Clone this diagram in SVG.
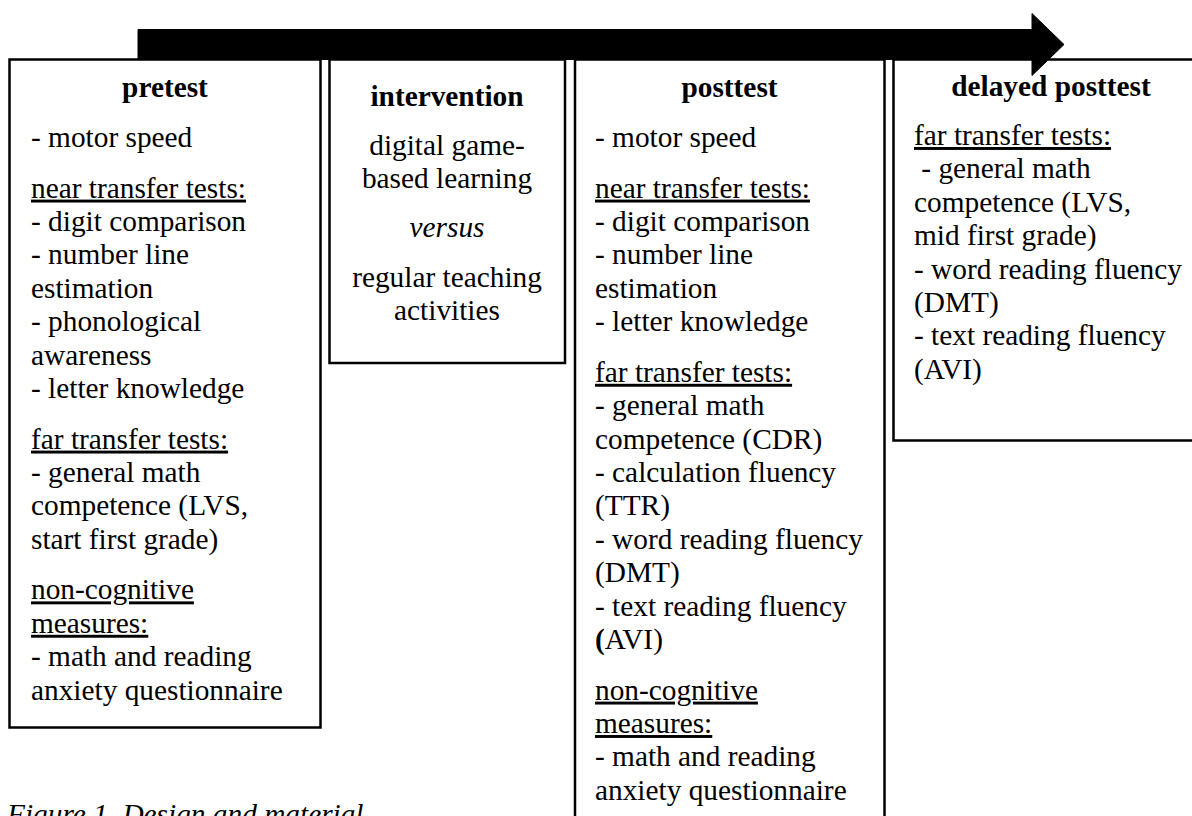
<svg xmlns="http://www.w3.org/2000/svg" width="1192" height="816" viewBox="0 0 1192 816">
<style>
.box{fill:#fff;stroke:#000;stroke-width:2.5}
text{font-family:"Liberation Serif","Times New Roman",serif;font-size:29.33px;fill:#000}
.t{font-weight:bold;text-anchor:middle}
.c{text-anchor:middle}
.u{text-decoration:underline}
.i{font-style:italic}
</style>
<rect x="0" y="0" width="1192" height="816" fill="#fff"/>
<g id="pretest">
<rect class="box" x="9.5" y="59.5" width="311" height="668"/>
<text class="t" x="165" y="97">pretest</text>
<text x="31" y="147">- motor speed</text>
<text class="u" x="31" y="197.6">near transfer tests:</text>
<text x="31" y="231">- digit comparison</text>
<text x="31" y="264.4">- number line</text>
<text x="31" y="297.8">estimation</text>
<text x="31" y="331.2">- phonological</text>
<text x="31" y="364.6">awareness</text>
<text x="31" y="398">- letter knowledge</text>
<text class="u" x="31" y="448.6">far transfer tests:</text>
<text x="31" y="482">- general math</text>
<text x="31" y="515.4">competence (LVS,</text>
<text x="31" y="548.8">start first grade)</text>
<text class="u" x="31" y="599.4">non-cognitive</text>
<text class="u" x="31" y="632.8">measures:</text>
<text x="31" y="666.2">- math and reading</text>
<text x="31" y="699.6">anxiety questionnaire</text>
</g>
<g id="intervention">
<rect class="box" x="329.5" y="59.5" width="235.5" height="303.5"/>
<text class="t" x="447" y="106">intervention</text>
<text class="c" x="447" y="154.5">digital game-</text>
<text class="c" x="447" y="188">based learning</text>
<text class="c i" x="447" y="237">versus</text>
<text class="c" x="447" y="286.5">regular teaching</text>
<text class="c" x="447" y="320">activities</text>
</g>
<g id="posttest">
<rect class="box" x="575" y="59.5" width="309.5" height="800"/>
<text class="t" x="729.5" y="97">posttest</text>
<text x="595" y="147">- motor speed</text>
<text class="u" x="595" y="197.6">near transfer tests:</text>
<text x="595" y="231">- digit comparison</text>
<text x="595" y="264.4">- number line</text>
<text x="595" y="297.8">estimation</text>
<text x="595" y="331.2">- letter knowledge</text>
<text class="u" x="595" y="381.8">far transfer tests:</text>
<text x="595" y="415.2">- general math</text>
<text x="595" y="448.6">competence (CDR)</text>
<text x="595" y="482">- calculation fluency</text>
<text x="595" y="515.4">(TTR)</text>
<text x="595" y="548.8">- word reading fluency</text>
<text x="595" y="582.2">(DMT)</text>
<text x="595" y="615.6">- text reading fluency</text>
<text x="595" y="649"><tspan font-weight="bold">(</tspan>AVI)</text>
<text class="u" x="595" y="699.6">non-cognitive</text>
<text class="u" x="595" y="733">measures:</text>
<text x="595" y="766.4">- math and reading</text>
<text x="595" y="799.8">anxiety questionnaire</text>
</g>
<g id="delayed-posttest">
<rect class="box" x="893.5" y="59.5" width="320" height="381"/>
<text class="t" x="1051" y="96">delayed posttest</text>
<text class="u" x="914" y="145">far transfer tests:</text>
<text x="921.3" y="178.4">- general math</text>
<text x="914" y="211.8">competence (LVS,</text>
<text x="914" y="245.2">mid first grade)</text>
<text x="914" y="278.6">- word reading fluency</text>
<text x="914" y="312">(DMT)</text>
<text x="914" y="345.4">- text reading fluency</text>
<text x="914" y="378.8">(AVI)</text>
</g>
<g id="connectors">
<polygon points="138,29.5 1032,29.5 1032,13.5 1064,44.5 1032,75.5 1032,59.5 138,59.5" fill="#000" stroke="#000" stroke-width="1"/>
</g>
<g id="caption">
<text class="i" x="7" y="824">Figure 1. Design and material</text>
</g>
</svg>
